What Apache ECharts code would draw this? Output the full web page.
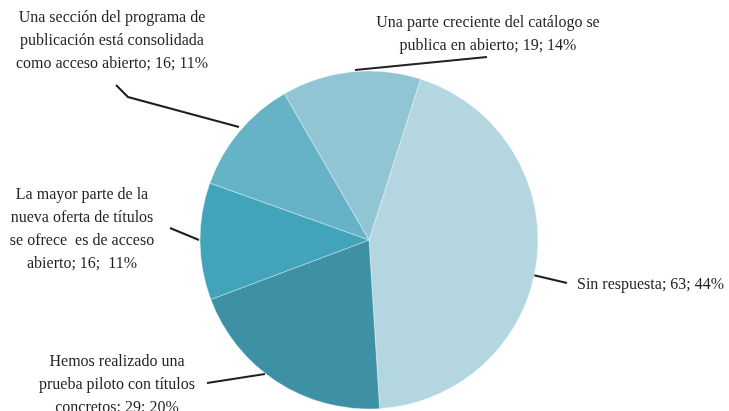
<!DOCTYPE html>
<html><head><meta charset="utf-8">
<script src="https://cdn.jsdelivr.net/npm/echarts@6/dist/echarts.min.js"></script>
<style>html,body{margin:0;padding:0;background:#fff}#c{width:729px;height:411px}</style>
</head><body><div id="c"></div>
<script>
const categories = [
  "Sin respuesta",
  "Hemos realizado una\nprueba piloto con títulos\nconcretos",
  "La mayor parte de la\nnueva oferta de títulos\nse ofrece  es de acceso\nabierto",
  "Una sección del programa de\npublicación está consolidada\ncomo acceso abierto",
  "Una parte creciente del catálogo se\npublica en abierto"
];
const values = [63, 29, 16, 16, 19];
const percents = ["44%", "20%", "11%", "11%", "14%"];
const separators = ["; ", ": ", "; ", "; ", "; "];
const separators2 = ["; ", ": ", ";  ", "; ", "; "];
const colors = ["#b4d6e0", "#3e91a5", "#41a4bb", "#66b3c7", "#91c5d3"];

// label placement (layout only)
const labelPlaces = [
  {x: 577, y: 285, align: "left", line: [[533, 275], [567, 283]]},
  {x: 117, y: 385, align: "center", line: [[265, 374], [207, 383]]},
  {x: 82, y: 229, align: "center", line: [[199, 240], [170, 228]]},
  {x: 112, y: 41, align: "center", line: [[239, 127], [128, 97], [116, 85]]},
  {x: 488, y: 34, align: "center", line: [[355, 70], [487, 57]]}
];

const chart = echarts.init(document.getElementById("c"), null, {renderer: "canvas"});
const data = categories.map((c, i) => ({
  name: c,
  value: values[i],
  itemStyle: {color: colors[i]},
  label: {formatter: c + separators[i] + values[i] + separators2[i] + percents[i]}
}));
chart.setOption({
  animation: false,
  series: [{
    type: "pie",
    center: [369, 240],
    radius: 169,
    startAngle: 72.2,
    clockwise: true,
    avoidLabelOverlap: false,
    data: data,
    itemStyle: {borderColor: "rgba(255,255,255,0.6)", borderWidth: 0.6},
    label: {
      show: true,
      position: "outside",
      overflow: "none",
      width: 400,
      fontFamily: "Liberation Serif",
      fontSize: 16,
      lineHeight: 23,
      color: "#231f20"
    },
    labelLine: {show: true, lineStyle: {color: "#231f20", width: 2}},
    labelLayout: function (p) {
      const lp = labelPlaces[p.dataIndex];
      return {
        x: lp.x, y: lp.y, align: lp.align, verticalAlign: "middle",
        labelLinePoints: lp.line
      };
    }
  }]
});
</script></body></html>
